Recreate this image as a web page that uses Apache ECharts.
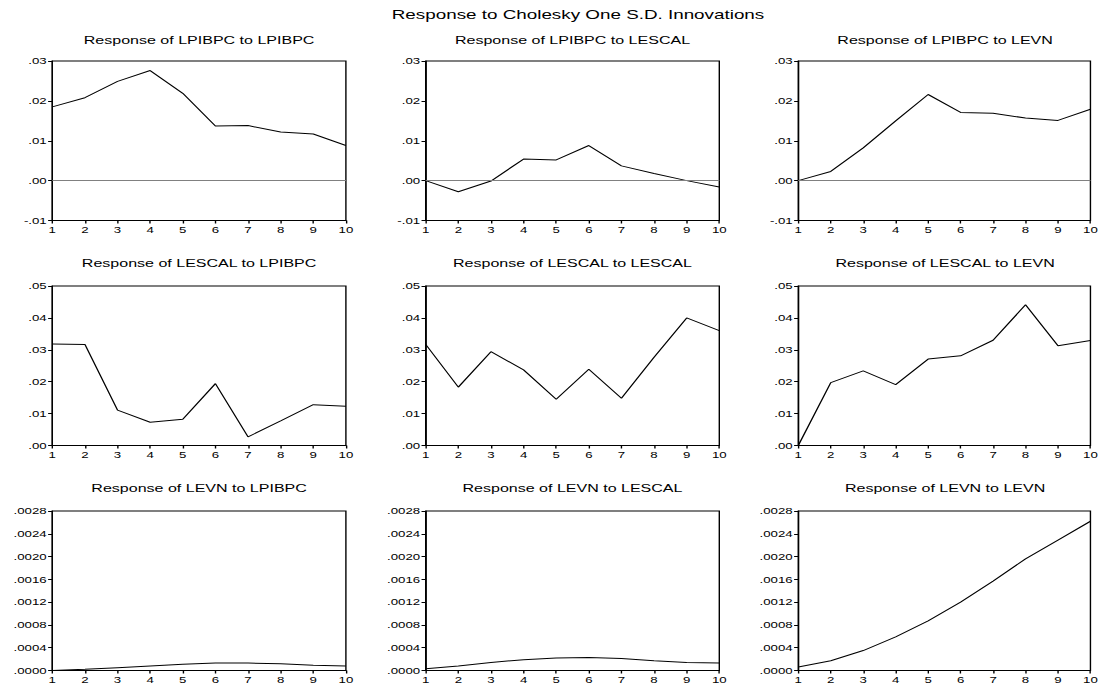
<!DOCTYPE html>
<html>
<head>
<meta charset="utf-8">
<script src="https://cdn.jsdelivr.net/npm/echarts@6/dist/echarts.min.js"></script>
<style>
html,body{margin:0;padding:0;background:#fff;overflow:hidden;}
#main{width:790px;height:687px;transform:scaleX(1.394937);transform-origin:0 0;}
</style>
</head>
<body>
<div id="main"></div>
<script>
// ---- data ----
const periods = ['1','2','3','4','5','6','7','8','9','10'];

const mainTitle = 'Response to Cholesky One S.D. Innovations';
const panelTitles = [
  'Response of LPIBPC to LPIBPC','Response of LPIBPC to LESCAL','Response of LPIBPC to LEVN',
  'Response of LESCAL to LPIBPC','Response of LESCAL to LESCAL','Response of LESCAL to LEVN',
  'Response of LEVN to LPIBPC','Response of LEVN to LESCAL','Response of LEVN to LEVN'
];

const resp_LPIBPC_LPIBPC = [0.0185, 0.0208, 0.0249, 0.0276, 0.0219, 0.0137, 0.0138, 0.0122, 0.0117, 0.0088];
const resp_LPIBPC_LESCAL = [0.0000, -0.0028, -0.0001, 0.0054, 0.0052, 0.0088, 0.0037, 0.0018, 0.0000, -0.0016];
const resp_LPIBPC_LEVN   = [0.0000, 0.0023, 0.0082, 0.0150, 0.0216, 0.0171, 0.0169, 0.0157, 0.0151, 0.0179];
const resp_LESCAL_LPIBPC = [0.0318, 0.0317, 0.0111, 0.0073, 0.0082, 0.0194, 0.0027, 0.0077, 0.0128, 0.0123];
const resp_LESCAL_LESCAL = [0.0317, 0.0183, 0.0294, 0.0237, 0.0145, 0.0239, 0.0148, 0.0277, 0.0400, 0.0360];
const resp_LESCAL_LEVN   = [0.0000, 0.0197, 0.0234, 0.0191, 0.0271, 0.0281, 0.0330, 0.0441, 0.0313, 0.0329];
const resp_LEVN_LPIBPC   = [0.00000, 0.00002, 0.00005, 0.00008, 0.00011, 0.00013, 0.00013, 0.00012, 0.00009, 0.00008];
const resp_LEVN_LESCAL   = [0.00003, 0.00008, 0.00014, 0.00019, 0.00022, 0.00023, 0.00021, 0.00017, 0.00014, 0.00013];
const resp_LEVN_LEVN     = [0.00006, 0.00017, 0.00035, 0.00059, 0.00087, 0.00120, 0.00157, 0.00196, 0.00229, 0.00262];

// y-axis scales per row
const rowYMin      = [-0.01, 0, 0];
const rowYMax      = [0.03, 0.05, 0.0028];
const rowYInterval = [0.01, 0.01, 0.0004];
const rowYDecimals = [2, 2, 4];

const panelData = [
  resp_LPIBPC_LPIBPC, resp_LPIBPC_LESCAL, resp_LPIBPC_LEVN,
  resp_LESCAL_LPIBPC, resp_LESCAL_LESCAL, resp_LESCAL_LEVN,
  resp_LEVN_LPIBPC, resp_LEVN_LESCAL, resp_LEVN_LEVN
];

// ---- layout (page pixels, horizontally compressed for the stretched view) ----
const S = 1102 / 790;
const colLeft = [52.3, 425.7, 798.3];
const plotW = 293.6;
const rowTop = [61, 286, 511];
const plotH = 159.5;
const rowTitleY = [40, 263, 488];
const FONT = '"Liberation Sans", Arial, Helvetica, sans-serif';

function fmt(dec) {
  return function (v) {
    const s = Number(v).toFixed(dec);
    return s.replace(/^(-?)0\./, '$1.');
  };
}

const grid = [], xAxis = [], yAxis = [], series = [], graphic = [];
for (let i = 0; i < 9; i++) {
  const r = Math.floor(i / 3), c = i % 3;
  grid.push({
    left: colLeft[c] / S, top: rowTop[r], width: plotW / S, height: plotH,
    show: true, borderColor: '#000', borderWidth: 1, backgroundColor: 'transparent'
  });
  xAxis.push({
    type: 'category', gridIndex: i, data: periods, boundaryGap: false,
    axisLine: { show: true, onZero: false, lineStyle: { color: '#000', width: 1 } },
    axisTick: { show: true, length: 3, interval: 0, lineStyle: { color: '#000', width: 1 } },
    axisLabel: { interval: 0, margin: 4, fontSize: 9.5, color: '#000', fontFamily: FONT },
    splitLine: { show: false }
  });
  yAxis.push({
    type: 'value', gridIndex: i, min: rowYMin[r], max: rowYMax[r], interval: rowYInterval[r],
    axisLine: { show: true, onZero: false, lineStyle: { color: '#000', width: 1 } },
    axisTick: { show: true, length: 3, lineStyle: { color: '#000', width: 1 } },
    axisLabel: { margin: 4, fontSize: 9.5, color: '#000', fontFamily: FONT, formatter: fmt(rowYDecimals[r]) },
    splitLine: { show: false }
  });
  const s = {
    type: 'line', xAxisIndex: i, yAxisIndex: i, data: panelData[i],
    symbol: 'none', silent: true, animation: false,
    lineStyle: { color: '#000', width: 1 }, z: 3
  };
  if (rowYMin[r] < 0) {
    s.markLine = {
      silent: true, symbol: 'none', animation: false, label: { show: false },
      lineStyle: { color: '#808080', width: 1, type: 'solid' },
      data: [{ yAxis: 0 }]
    };
  }
  series.push(s);
  graphic.push({
    type: 'text', x: (colLeft[c] + plotW / 2) / S, y: rowTitleY[r], silent: true,
    style: {
      text: panelTitles[i], font: '11.5px ' + FONT, fill: '#000',
      align: 'center', verticalAlign: 'middle', textAlign: 'center', textVerticalAlign: 'middle'
    }
  });
}
graphic.push({
  type: 'text', x: 578 / S, y: 14, silent: true,
  style: {
    text: mainTitle, font: '13.5px ' + FONT, fill: '#000',
    align: 'center', verticalAlign: 'middle', textAlign: 'center', textVerticalAlign: 'middle'
  }
});

const chart = echarts.init(document.getElementById('main'), null, { renderer: 'svg', width: 790, height: 687 });
chart.setOption({
  backgroundColor: '#fff',
  animation: false,
  grid, xAxis, yAxis, series, graphic
});
</script>
</body>
</html>
